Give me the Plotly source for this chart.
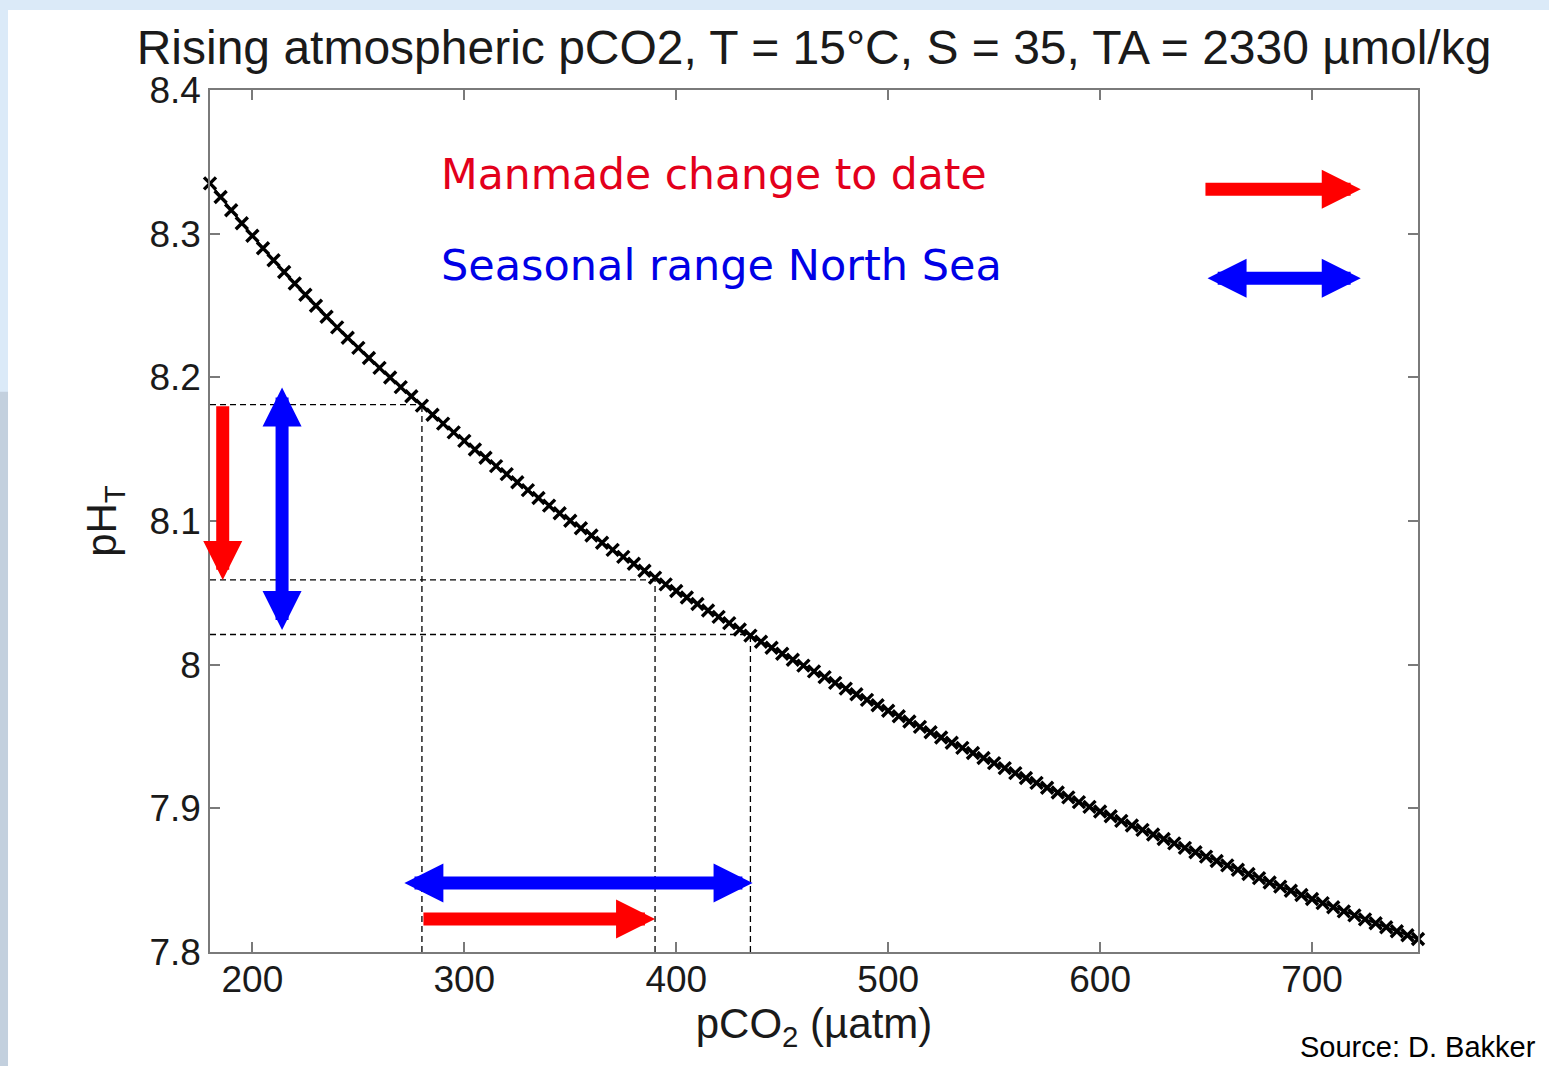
import plotly.graph_objects as go

# ---------------- data ----------------
pco2 = [180, 185, 190, 195, 200, 205, 210, 215, 220, 225, 230, 235, 240, 245,
        250, 255, 260, 265, 270, 275, 280, 285, 290, 295, 300, 305, 310, 315,
        320, 325, 330, 335, 340, 345, 350, 355, 360, 365, 370, 375, 380, 385,
        390, 395, 400, 405, 410, 415, 420, 425, 430, 435, 440, 445, 450, 455,
        460, 465, 470, 475, 480, 485, 490, 495, 500, 505, 510, 515, 520, 525,
        530, 535, 540, 545, 550, 555, 560, 565, 570, 575, 580, 585, 590, 595,
        600, 605, 610, 615, 620, 625, 630, 635, 640, 645, 650, 655, 660, 665,
        670, 675, 680, 685, 690, 695, 700, 705, 710, 715, 720, 725, 730, 735,
        740, 745, 750]

ph_t = [8.3350, 8.3255, 8.3163, 8.3073, 8.2985, 8.2899, 8.2815, 8.2733, 8.2653,
        8.2575, 8.2498, 8.2422, 8.2348, 8.2276, 8.2205, 8.2135, 8.2066, 8.1999,
        8.1932, 8.1868, 8.1803, 8.1740, 8.1678, 8.1617, 8.1558, 8.1498, 8.1440,
        8.1382, 8.1326, 8.1270, 8.1215, 8.1160, 8.1107, 8.1054, 8.1002, 8.0950,
        8.0899, 8.0849, 8.0799, 8.0750, 8.0702, 8.0654, 8.0606, 8.0559, 8.0513,
        8.0467, 8.0422, 8.0377, 8.0333, 8.0289, 8.0245, 8.0202, 8.0160, 8.0118,
        8.0076, 8.0034, 7.9993, 7.9953, 7.9913, 7.9873, 7.9833, 7.9794, 7.9755,
        7.9717, 7.9679, 7.9641, 7.9604, 7.9567, 7.9530, 7.9493, 7.9457, 7.9421,
        7.9385, 7.9350, 7.9315, 7.9280, 7.9245, 7.9211, 7.9177, 7.9143, 7.9110,
        7.9076, 7.9043, 7.9010, 7.8978, 7.8945, 7.8913, 7.8881, 7.8850, 7.8818,
        7.8787, 7.8756, 7.8725, 7.8694, 7.8664, 7.8633, 7.8603, 7.8573, 7.8543,
        7.8514, 7.8484, 7.8455, 7.8426, 7.8397, 7.8369, 7.8340, 7.8312, 7.8283,
        7.8255, 7.8227, 7.8200, 7.8172, 7.8144, 7.8117, 7.8090]

# reference (dashed) levels: pre-industrial, present day, seasonal maximum
ref_pco2 = [280, 390, 435]
ref_ph = [8.181, 8.059, 8.021]

# manmade change (red) and seasonal range (blue)
manmade_pco2 = [280, 390]
manmade_ph = [8.181, 8.059]
seasonal_pco2 = [271, 436]
seasonal_ph = [8.193, 8.023]

x_ticks = [200, 300, 400, 500, 600, 700]
y_ticks = [7.8, 7.9, 8.0, 8.1, 8.2, 8.3, 8.4]
y_tick_text = ["7.8", "7.9", "8", "8.1", "8.2", "8.3", "8.4"]

x_range = [180, 750]
y_range = [7.8, 8.4]

title_text = "Rising atmospheric pCO2, T = 15°C, S = 35, TA = 2330 µmol/kg"
label_manmade = "Manmade change to date"
label_seasonal = "Seasonal range North Sea"

# ---------------- figure ----------------
RED = "#ff0000"
BLUE = "#0000ff"
FONT = "Liberation Sans, Arial, sans-serif"

fig = go.Figure()

# dashed guide lines
dash_style = dict(color="black", width=1.3, dash="6px,4px")
for xv, yv in zip(ref_pco2, ref_ph):
    fig.add_trace(go.Scatter(x=[x_range[0], xv], y=[yv, yv], mode="lines",
                             line=dash_style, hoverinfo="skip", showlegend=False))
    fig.add_trace(go.Scatter(x=[xv, xv], y=[y_range[0], yv], mode="lines",
                             line=dash_style, hoverinfo="skip", showlegend=False))

# the pH curve
fig.add_trace(go.Scatter(
    x=pco2, y=ph_t, mode="lines+markers",
    line=dict(color="black", width=2),
    marker=dict(symbol="x-thin", size=12, line=dict(color="black", width=3.4)),
    cliponaxis=False, showlegend=False))

AW = 13      # arrow shaft width (px)
AS = 0.6     # arrow head size relative to width

def arrow(x0, y0, x1, y1, color, both=False):
    fig.add_annotation(
        x=x1, y=y1, ax=x0, ay=y0, xref="x", yref="y", axref="x", ayref="y",
        text="", showarrow=True, arrowhead=2, arrowsize=AS, arrowwidth=AW,
        arrowcolor=color, standoff=0, startstandoff=0,
        arrowside="end+start" if both else "end",
        startarrowhead=2, startarrowsize=AS)

# vertical arrows on the left
arrow(186, manmade_ph[0], 186, manmade_ph[1], RED)
arrow(214, seasonal_ph[1], 214, seasonal_ph[0], BLUE, both=True)
# horizontal arrows at the bottom
arrow(seasonal_pco2[0], 7.848, seasonal_pco2[1], 7.848, BLUE, both=True)
arrow(manmade_pco2[0], 7.823, manmade_pco2[1], 7.823, RED)
# key arrows
arrow(649, 8.331, 723, 8.331, RED)
arrow(650, 8.269, 723, 8.269, BLUE, both=True)

# key labels
fig.add_annotation(x=288.2, y=8.341, xref="x", yref="y", text=label_manmade,
                   showarrow=False, xanchor="left", yanchor="middle",
                   font=dict(family="DejaVu Sans, Verdana, sans-serif", size=42.5, color="#e3001b"))
fig.add_annotation(x=288.2, y=8.278, xref="x", yref="y", text=label_seasonal,
                   showarrow=False, xanchor="left", yanchor="middle",
                   font=dict(family="DejaVu Sans, Verdana, sans-serif", size=43, color="#0000e6"))

# source
fig.add_annotation(x=1.0993, y=-0.110, xref="paper", yref="paper",
                   text="Source: D. Bakker", showarrow=False,
                   xanchor="right", yanchor="middle",
                   font=dict(family=FONT, size=29, color="black"))

# slide background: light blue frame with white slide
fig.add_shape(type="rect", xref="paper", yref="paper", x0=-0.1672, x1=1.2,
              y0=-0.2, y1=1.0928, fillcolor="white", line=dict(width=0), layer="below")
fig.add_shape(type="rect", xref="paper", yref="paper", x0=-0.2, x1=-0.1672,
              y0=-0.2, y1=0.65, fillcolor="#c3d0de", line=dict(width=0), layer="below")

axis_common = dict(showline=True, linecolor="#7a7a7a", linewidth=1.5, mirror="ticks",
                   ticks="inside", ticklen=10, tickwidth=1.5, tickcolor="#7a7a7a",
                   showgrid=False, zeroline=False,
                   tickfont=dict(family=FONT, size=37, color="#1a1a1a"))

fig.update_xaxes(range=x_range, tickvals=x_ticks, **axis_common,
                 ticklabelstandoff=-6,
                 title=dict(text="pCO<sub>2</sub> (µatm)", standoff=2,
                            font=dict(family=FONT, size=42, color="#1a1a1a")))
fig.update_yaxes(range=y_range, tickvals=y_ticks, ticktext=y_tick_text, **axis_common,
                 title=dict(text="pH<sub>T</sub>", standoff=20,
                            font=dict(family=FONT, size=42, color="#1a1a1a")))

fig.update_layout(
    width=1549, height=1066, autosize=False,
    margin=dict(l=210, r=131, t=90, b=114, pad=0),
    paper_bgcolor="#dbeaf8", plot_bgcolor="white",
    title=dict(text=title_text, x=0.5, xref="paper", xanchor="center",
               y=1 - 47 / 1066, yref="container", yanchor="middle",
               font=dict(family=FONT, size=48, color="#1a1a1a")),
    showlegend=False,
)

fig.write_html("out.html")
